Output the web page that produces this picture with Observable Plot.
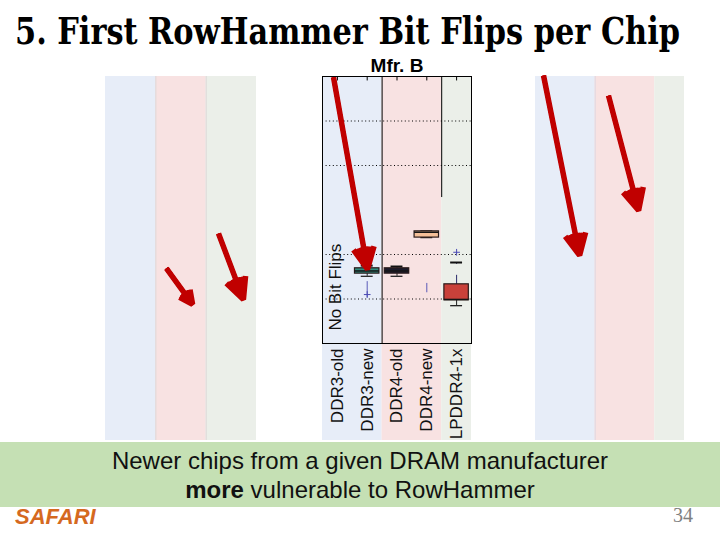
<!DOCTYPE html>
<html>
<head>
<meta charset="utf-8">
<script src="https://cdn.jsdelivr.net/npm/d3@7"></script>
<script src="https://cdn.jsdelivr.net/npm/@observablehq/plot@0.6"></script>
<style>
  body { margin: 0; background: #fff; }
  #slide { position: relative; width: 720px; height: 540px; overflow: hidden; background: #fff;
           font-family: "Liberation Sans", Arial, sans-serif; }
  .panel { position: absolute; top: 50px; }
  #title { position: absolute; left: 15px; top: 12px; font: bold 38px/38px "DejaVu Serif Condensed", "DejaVu Serif", serif;
           white-space: nowrap; transform-origin: 0 0; color: #000; }
  #note { position: absolute; left: 0; top: 442px; width: 720px; height: 65px; background: #c5e0b4;
          text-align: center; font-size: 24px; line-height: 29px; padding-top: 4px; box-sizing: border-box; color: #111; }
  #safari { position: absolute; left: 15px; top: 506px; font: italic bold 22px/22px "Liberation Sans", Arial, sans-serif; color: #d5691f; }
  #page { position: absolute; left: 673px; top: 505px; font: 20px/20px "Liberation Serif", serif; color: #808080; }
</style>
</head>
<body>
<div id="slide">
  <div id="title">5. First RowHammer Bit Flips per Chip</div>
  <div id="panelA" class="panel" style="left:90px"></div>
  <div id="panelB" class="panel" style="left:300px"></div>
  <div id="panelC" class="panel" style="left:515px"></div>
  <div id="note">Newer chips from a given DRAM manufacturer<br><b>more</b> vulnerable to RowHammer</div>
  <div id="safari">SAFARI</div>
  <div id="page">34</div>
</div>
<script>
// ---------------- data ----------------
const categories = ["DDR3-old", "DDR3-new", "DDR4-old", "DDR4-new", "LPDDR4-1x"];
const families = ["DDR3", "DDR4", "LPDDR4"];
const familyColors = ["#e7edf8", "#f8e2e2", "#ebefe9"];
// family band spans in category slots (Mfr. B / Mfr. C have 5 slots, Mfr. A has 3)
const bandStart5 = [0.5, 2.5, 4.5];
const bandEnd5 = [2.5, 4.5, 5.5];
const bandStart3 = [0.5, 1.5, 2.5];
const bandEnd3 = [1.5, 2.5, 3.5];

const boxCategories = ["DDR3-new", "DDR4-old", "DDR4-new", "LPDDR4-1x"];
const whiskerLow  = [1.51, 1.51, 2.38, 0.85];
const q1          = [1.57, 1.57, 2.38, 0.97];
const median      = [1.63, 1.63, 2.50, 0.99];
const q3          = [1.69, 1.69, 2.52, 1.33];
const whiskerHigh = [1.75, 1.73, 2.52, 1.82];
const boxColors = ["#2f8c7e", "#1b1b2b", "#f5bf98", "#c9413a"];

// single outliers ("+") and dense outlier clusters (overlapping "+" forming a streak)
const outlierCategories = ["DDR3-new", "LPDDR4-1x"];
const outlierValues     = [1.10, 2.05];
const clusterCategories = ["DDR3-new", "DDR4-new"];
const clusterLow        = [1.03, 1.14];
const clusterHigh       = [1.39, 1.35];

const gridValues = [1, 2, 4, 5];
const noFlipCategory = "DDR3-old";
const noFlipText = "No Bit Flips";
const separatorsB = [{x: 2.5, from: 0, to: 6}, {x: 4.5, from: 3.28, to: 6}];

// red annotation arrows, in each panel's (category slot, value) units
const arrowsA = [{x1: 1.71, y1: 1.69, x2: 2.23, y2: 0.88}, {x1: 2.745, y1: 2.47, x2: 3.24, y2: 0.99}];
const arrowsB = [{x1: 0.87, y1: 5.98, x2: 2.01, y2: 1.67}];
const arrowsC = [{x1: 0.77, y1: 6.02, x2: 1.98, y2: 1.98}, {x1: 2.95, y1: 5.57, x2: 3.96, y2: 2.99}];

const yMax = 6;
const bandFloor = -2.18;

// ---------------- helpers ----------------
const idx = c => categories.indexOf(c) + 1;
const bands = (start, end) => families.map((f, i) => ({family: f, x1: start[i], x2: end[i], fill: familyColors[i]}));
const arrowStyle = {x1: "x1", y1: "y1", x2: "x2", y2: "y2", stroke: "#c00000", strokeLinejoin: "miter", strokeLinecap: "butt"};
// shaft plus a stack of chevrons that fill the arrowhead into a solid triangle
const arrowMarks = data => [
  Plot.arrow(data, {...arrowStyle, strokeWidth: 5.5, headLength: 6.5, headAngle: 52}),
  ...[40, 28, 16, 6].map(a => Plot.arrow(data, {...arrowStyle, strokeWidth: 4, headLength: 8.5, headAngle: a}))
];

function panelPlot({width, marginLeft, marginRight, slots, marks}) {
  return Plot.plot({
    width, height: 400, marginLeft, marginRight, marginTop: 26, marginBottom: 107,
    x: {domain: [0.5, slots + 0.5], axis: null},
    y: {domain: [0, yMax], axis: null},
    color: {type: "identity"},
    style: {background: "transparent", overflow: "visible", fontFamily: "'Liberation Sans', Arial, sans-serif"},
    marks
  });
}

// ---------------- Mfr. A (content hidden) ----------------
const bandsA = bands(bandStart3, bandEnd3);
document.getElementById("panelA").append(panelPlot({
  width: 180, marginLeft: 15, marginRight: 14, slots: 3,
  marks: [
    Plot.rect(bandsA, {x1: "x1", x2: "x2", y1: bandFloor, y2: yMax, fill: "fill"}),
    Plot.ruleX(bandsA.slice(1), {x: "x1", y1: bandFloor, y2: yMax, stroke: "#dcd6d6"}),
    ...arrowMarks(arrowsA)
  ]
}));

// ---------------- Mfr. B ----------------
const bandsB = bands(bandStart5, bandEnd5);
const boxes = boxCategories.map((c, i) => ({x: idx(c), lo: whiskerLow[i], q1: q1[i], med: median[i], q3: q3[i], hi: whiskerHigh[i], fill: boxColors[i]}));
const outliers = outlierCategories.map((c, i) => ({x: idx(c), y: outlierValues[i]}));
const clusters = clusterCategories.map((c, i) => ({x: idx(c), lo: clusterLow[i], hi: clusterHigh[i]}));
document.getElementById("panelB").append(panelPlot({
  width: 190, marginLeft: 22, marginRight: 19, slots: 5,
  marks: [
    Plot.rect(bandsB, {x1: "x1", x2: "x2", y1: bandFloor, y2: yMax, fill: "fill"}),
    Plot.ruleY(gridValues, {stroke: "#000", strokeDasharray: "1,2.6"}),
    Plot.ruleX(separatorsB, {x: "x", y1: "from", y2: "to", stroke: "#000"}),
    Plot.ruleX(boxes, {x: "x", y1: "q1", y2: "lo", stroke: "#222", strokeDasharray: "9,11"}),
    Plot.ruleX(boxes, {x: "x", y1: "q3", y2: "hi", stroke: "#2a2a6a", strokeDasharray: "9,11"}),
    Plot.ruleY(boxes, {y: "lo", x1: d => d.x - 0.2, x2: d => d.x + 0.2, stroke: "#222", strokeWidth: 1.3}),
    Plot.ruleY(boxes, {y: "hi", x1: d => d.x - 0.2, x2: d => d.x + 0.2, stroke: "#111", strokeWidth: 2}),
    Plot.rect(boxes, {x1: d => d.x - 0.41, x2: d => d.x + 0.41, y1: "q1", y2: "q3", fill: "fill", stroke: "#2a1a1a", strokeWidth: 1.2}),
    Plot.ruleY(boxes, {y: "med", x1: d => d.x - 0.41, x2: d => d.x + 0.41, stroke: "#151515", strokeWidth: 1.5}),
    Plot.ruleX(clusters, {x: "x", y1: "lo", y2: "hi", stroke: "#5a5ab8", strokeWidth: 1}),
    Plot.dot(outliers, {x: "x", y: "y", symbol: "plus", r: 2.3, stroke: "#4b4bb4", strokeWidth: 1}),
    Plot.frame({stroke: "#000"}),
    Plot.ruleX(categories, {x: (d, i) => i + 1, y1: yMax, y2: yMax - 0.1, stroke: "#000"}),
    Plot.text(categories, {x: (d, i) => i + 1, y: 0, text: d => d, rotate: -90, textAnchor: "end", dy: 5, fontSize: 17, fill: "#111"}),
    Plot.text([noFlipText], {x: idx(noFlipCategory), y: 0.29, text: d => d, rotate: -90, textAnchor: "start", dx: -2, fontSize: 17, fill: "#111"}),
    Plot.text(["Mfr. B"], {frameAnchor: "top", lineAnchor: "bottom", dy: -5, fontSize: 19, fontWeight: "bold", fill: "#000"}),
    ...arrowMarks(arrowsB)
  ]
}));

// ---------------- Mfr. C (content hidden) ----------------
const bandsC = bands(bandStart5, bandEnd5);
document.getElementById("panelC").append(panelPlot({
  width: 185, marginLeft: 20, marginRight: 16, slots: 5,
  marks: [
    Plot.rect(bandsC, {x1: "x1", x2: "x2", y1: bandFloor, y2: yMax, fill: "fill"}),
    Plot.ruleX(bandsC.slice(1, 2), {x: "x1", y1: bandFloor, y2: yMax, stroke: "#dcd6e0"}),
    ...arrowMarks(arrowsC)
  ]
}));

// fit title width to the slide's title span
const title = document.getElementById("title");
const w = title.getBoundingClientRect().width;
title.style.transform = `scaleX(${665 / w})`;
</script>
</body>
</html>
